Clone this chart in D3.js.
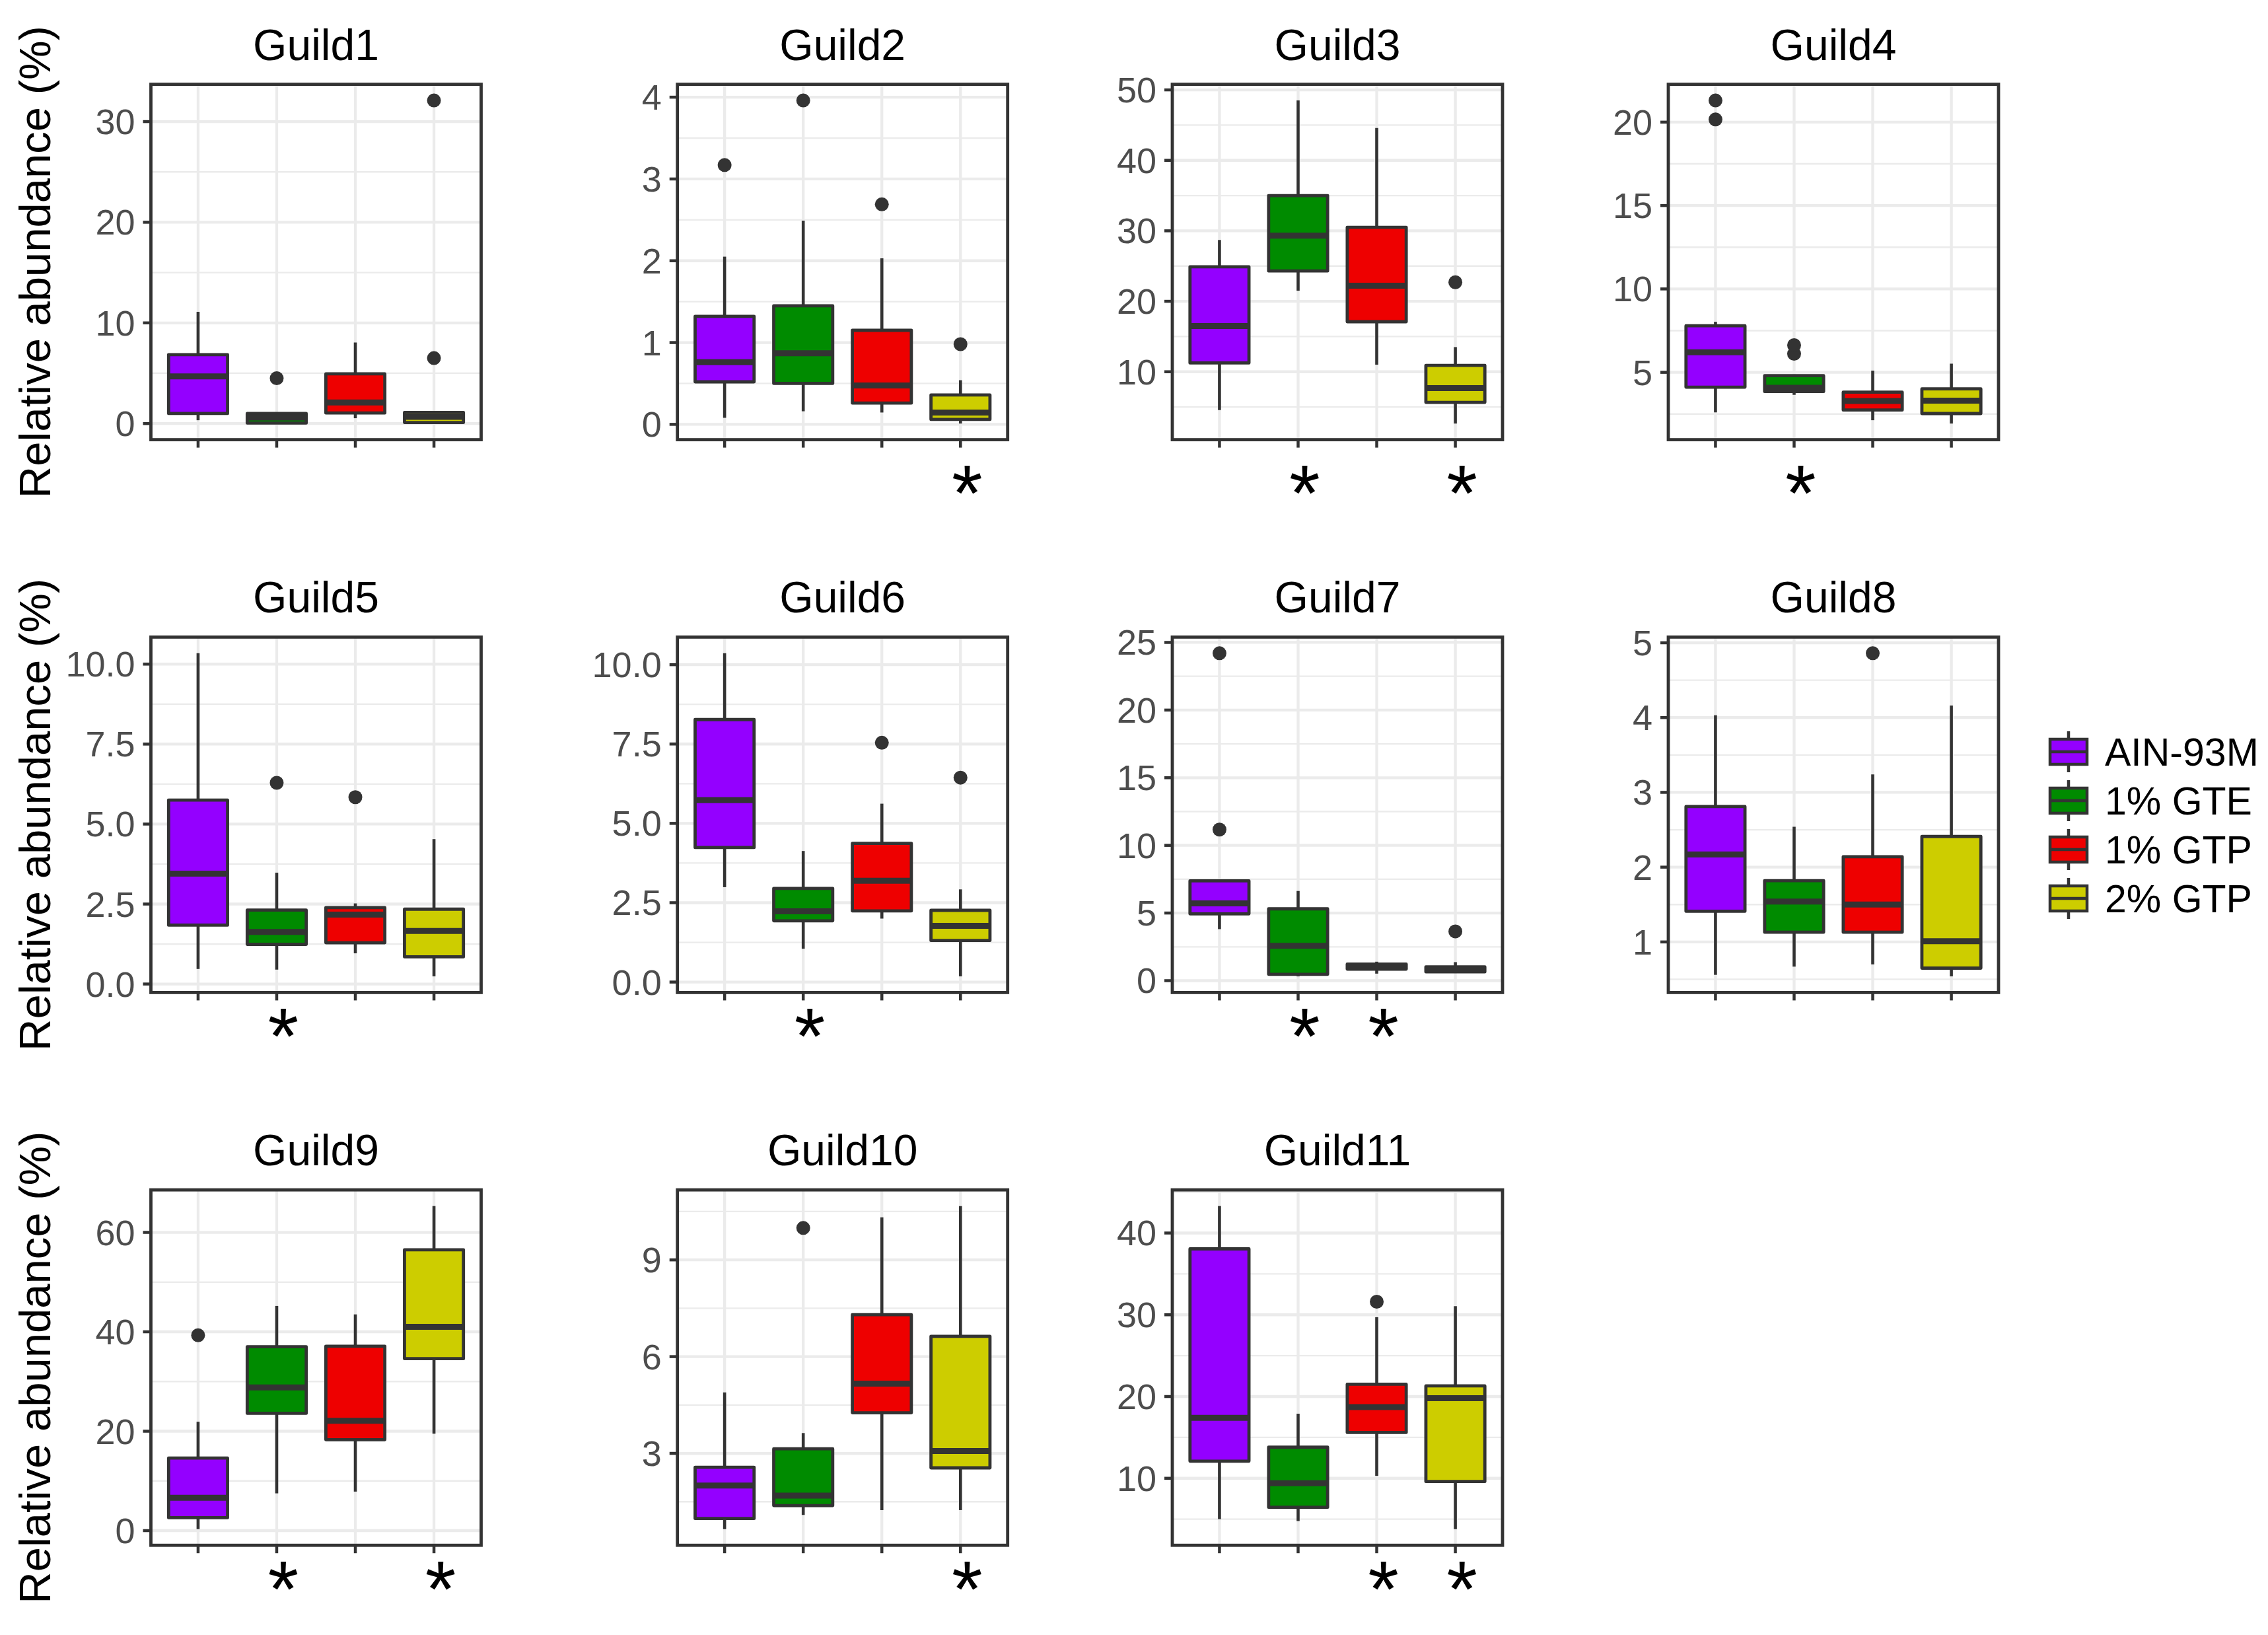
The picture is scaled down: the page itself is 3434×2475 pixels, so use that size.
<!DOCTYPE html>
<html><head><meta charset="utf-8">
<script src="https://cdn.jsdelivr.net/npm/d3@7"></script>
<style>html,body{margin:0;padding:0;background:#fff;}</style>
</head><body>
<svg id="chart" width="3434" height="2475"></svg>
<script>
// ---------- DATA ----------
const guilds = ["Guild1","Guild2","Guild3","Guild4","Guild5","Guild6","Guild7","Guild8","Guild9","Guild10","Guild11"];
const groups = ["AIN-93M","1% GTE","1% GTP","2% GTP"];
const groupColors = ["#9400FF","#008B00","#EE0000","#CDCD00"];

// per guild, per group (AIN-93M, 1% GTE, 1% GTP, 2% GTP)
const whiskerLow = [
  [0.33,0.0,0.53,0.0],[0.08,0.16,0.145,0.01],[4.56,21.5,11.0,2.65],[2.6,3.65,2.13,1.93],
  [0.47,0.45,0.96,0.24],[2.99,1.05,2.0,0.18],[3.81,0.32,0.52,0.57],[0.56,0.67,0.70,0.54],
  [0.3,7.5,7.85,19.5],[0.65,1.09,1.24,1.24],[5.0,4.77,10.3,3.78]];
const q1 = [
  [1.0,0.05,1.05,0.1],[0.52,0.50,0.26,0.06],[11.25,24.3,17.1,5.66],[4.11,3.85,2.74,2.53],
  [1.84,1.24,1.29,0.85],[4.24,1.93,2.24,1.31],[4.94,0.47,0.85,0.65],[1.41,1.13,1.13,0.65],
  [2.6,23.6,18.3,34.6],[0.98,1.38,4.26,2.55],[12.1,6.45,15.6,9.6]];
const median = [
  [4.68,0.6,2.1,0.67],[0.76,0.87,0.475,0.145],[16.5,29.3,22.2,7.67],[6.2,4.07,3.28,3.3],
  [3.45,1.63,2.17,1.66],[5.73,2.23,3.19,1.77],[5.71,2.57,1.05,0.82],[2.17,1.54,1.5,1.01],
  [6.6,28.8,22.1,41.0],[2.0,1.69,5.16,3.07],[17.4,9.4,18.7,19.8]];
const q3 = [
  [6.85,1.0,4.94,1.1],[1.32,1.45,1.15,0.36],[24.9,35.0,30.5,10.9],[7.79,4.8,3.81,4.01],
  [5.75,2.31,2.39,2.34],[8.27,2.95,4.37,2.26],[7.38,5.31,1.22,1.02],[2.81,1.82,2.14,2.41],
  [14.6,37.0,37.1,56.5],[2.57,3.14,7.30,6.63],[38.06,13.8,21.5,21.3]];
const whiskerHigh = [
  [11.1,1.1,8.05,1.2],[2.05,2.49,2.03,0.54],[28.7,48.5,44.6,13.5],[8.03,4.85,5.1,5.52],
  [10.34,3.48,2.52,4.53],[10.36,4.13,5.62,2.92],[7.38,6.63,1.4,1.37],[4.03,2.54,3.24,4.16],
  [21.9,45.2,43.5,65.3],[4.89,3.63,10.32,10.67],[43.3,17.9,29.7,31.05]];
const outliers = [
  [[],[4.5],[],[6.5,32.1]],
  [[3.17],[3.96],[2.69],[0.98]],
  [[],[],[],[22.7]],
  [[20.16,21.3],[6.11,6.63],[],[]],
  [[],[6.29],[5.84],[]],
  [[],[],[7.54],[6.44]],
  [[11.17,24.2],[],[],[3.64]],
  [[],[],[4.86],[]],
  [[39.3],[],[],[]],
  [[],[9.99],[],[]],
  [[],[],[31.6],[]]];
// significance marks (group indices, 0-based)
const stars = [[],[3],[1,3],[1],[1],[1],[1,2],[],[1,3],[3],[2,3]];
// y tick labels
const yTicks = [
  [0,10,20,30],[0,1,2,3,4],[10,20,30,40,50],[5,10,15,20],
  [0,2.5,5,7.5,10],[0,2.5,5,7.5,10],[0,5,10,15,20,25],[1,2,3,4,5],
  [0,20,40,60],[3,6,9],[10,20,30,40]];
const tickFormats = ["d","d","d","d",".1f",".1f","d","d","d","d","d"];
const yTitle = "Relative abundance (%)";

// ---------- LAYOUT ----------
const colLeft = [228.5, 1025.7, 1775, 2526];
const rowTop = [127.6, 964.4, 1801.2];
const PW = 500, PH = 538;
const starGap = [36, 22, 22];
const FONT = "'Liberation Sans', Arial, Helvetica, sans-serif";
const DARK = "#333333";

const svg = d3.select("#chart");
svg.append("rect").attr("width",3434).attr("height",2475).attr("fill","#fff");

guilds.forEach((name, gi) => {
  const col = gi % 4, row = Math.floor(gi / 4);
  const L = colLeft[col], T = rowTop[row];
  const g = svg.append("g");

  // y domain from data with 5% expansion
  const vals = [];
  for (let k = 0; k < 4; k++) {
    vals.push(whiskerLow[gi][k], whiskerHigh[gi][k], q1[gi][k], q3[gi][k], ...outliers[gi][k]);
  }
  const mn = d3.min(vals), mx = d3.max(vals), r = mx - mn;
  const y = d3.scaleLinear().domain([mn - 0.05*r, mx + 0.05*r]).range([T + PH, T]);
  const x = d3.scalePoint().domain(groups).range([L, L + PW]).padding(0.6);
  const step = x.step();
  const bw = step * 0.75;

  // minor grid
  const tk = yTicks[gi];
  const d = tk[1] - tk[0];
  const minors = [tk[0] - d/2, ...tk.map(t => t + d/2)].filter(v => v > y.domain()[0] && v < y.domain()[1]);
  g.selectAll(".minor").data(minors).join("line")
    .attr("x1", L).attr("x2", L + PW).attr("y1", v => y(v)).attr("y2", v => y(v))
    .attr("stroke", "#EBEBEB").attr("stroke-width", 2.3);
  // major grid
  g.selectAll(".major").data(tk).join("line")
    .attr("x1", L).attr("x2", L + PW).attr("y1", v => y(v)).attr("y2", v => y(v))
    .attr("stroke", "#EBEBEB").attr("stroke-width", 4.3);
  g.selectAll(".vmajor").data(groups).join("line")
    .attr("x1", c => x(c)).attr("x2", c => x(c)).attr("y1", T).attr("y2", T + PH)
    .attr("stroke", "#EBEBEB").attr("stroke-width", 4.3);

  // boxes
  groups.forEach((c, k) => {
    const cx = x(c);
    g.append("line").attr("x1", cx).attr("x2", cx)
      .attr("y1", y(whiskerHigh[gi][k])).attr("y2", y(q3[gi][k]))
      .attr("stroke", DARK).attr("stroke-width", 4.6);
    g.append("line").attr("x1", cx).attr("x2", cx)
      .attr("y1", y(q1[gi][k])).attr("y2", y(whiskerLow[gi][k]))
      .attr("stroke", DARK).attr("stroke-width", 4.6);
    g.append("rect").attr("x", cx - bw/2).attr("width", bw)
      .attr("y", y(q3[gi][k])).attr("height", Math.max(0.5, y(q1[gi][k]) - y(q3[gi][k])))
      .attr("fill", groupColors[k]).attr("stroke", DARK).attr("stroke-width", 4.8)
      .attr("stroke-linejoin", "round");
    g.append("line").attr("x1", cx - bw/2).attr("x2", cx + bw/2)
      .attr("y1", y(median[gi][k])).attr("y2", y(median[gi][k]))
      .attr("stroke", DARK).attr("stroke-width", 9);
    g.selectAll(null).data(outliers[gi][k]).join("circle")
      .attr("cx", cx).attr("cy", v => y(v)).attr("r", 10.5).attr("fill", DARK);
  });

  // border
  g.append("rect").attr("x", L).attr("y", T).attr("width", PW).attr("height", PH)
    .attr("fill", "none").attr("stroke", DARK).attr("stroke-width", 4.8);

  // y axis ticks + labels
  const fmt = d3.format(tickFormats[gi]);
  g.selectAll(".yt").data(tk).join("line")
    .attr("x1", L - 12).attr("x2", L).attr("y1", v => y(v)).attr("y2", v => y(v))
    .attr("stroke", DARK).attr("stroke-width", 4.5);
  g.selectAll(".yl").data(tk).join("text")
    .attr("x", L - 24).attr("y", v => y(v) + 19)
    .attr("text-anchor", "end").attr("font-family", FONT).attr("font-size", 54)
    .attr("fill", "#4D4D4D").text(v => fmt(v));
  // x ticks
  g.selectAll(".xt").data(groups).join("line")
    .attr("x1", c => x(c)).attr("x2", c => x(c)).attr("y1", T + PH).attr("y2", T + PH + 12)
    .attr("stroke", DARK).attr("stroke-width", 4.5);
  // stars
  g.selectAll(".st").data(stars[gi]).join("text")
    .attr("x", k => x(groups[k]) + 10).attr("y", T + PH + starGap[row] + 86)
    .attr("text-anchor", "middle").attr("font-family", FONT).attr("font-size", 120)
    .attr("fill", "#000").text("*");
  // title
  g.append("text").attr("x", L + PW/2).attr("y", T - 37)
    .attr("text-anchor", "middle").attr("font-family", FONT).attr("font-size", 66)
    .attr("fill", "#000").text(name);
});

// y axis titles
rowTop.forEach(T => {
  svg.append("text").attr("transform", `translate(76,${T + PH/2}) rotate(-90)`)
    .attr("text-anchor", "middle").attr("font-family", FONT).attr("font-size", 67)
    .attr("fill", "#000").text(yTitle);
});

// legend
const legY = d3.scalePoint().domain(groups).range([1138, 1360]);
const lg = svg.append("g");
groups.forEach((c, k) => {
  const cy = legY(c), cx = 3132;
  lg.append("line").attr("x1", cx).attr("x2", cx).attr("y1", cy - 31).attr("y2", cy + 31)
    .attr("stroke", DARK).attr("stroke-width", 4.5);
  lg.append("rect").attr("x", cx - 28).attr("y", cy - 19).attr("width", 56).attr("height", 38)
    .attr("fill", groupColors[k]).attr("stroke", DARK).attr("stroke-width", 4.5);
  lg.append("line").attr("x1", cx - 28).attr("x2", cx + 28).attr("y1", cy).attr("y2", cy)
    .attr("stroke", DARK).attr("stroke-width", 4.5);
  lg.append("text").attr("x", 3187).attr("y", cy + 21)
    .attr("font-family", FONT).attr("font-size", 59).attr("fill", "#000").text(c);
});
</script>
</body></html>
